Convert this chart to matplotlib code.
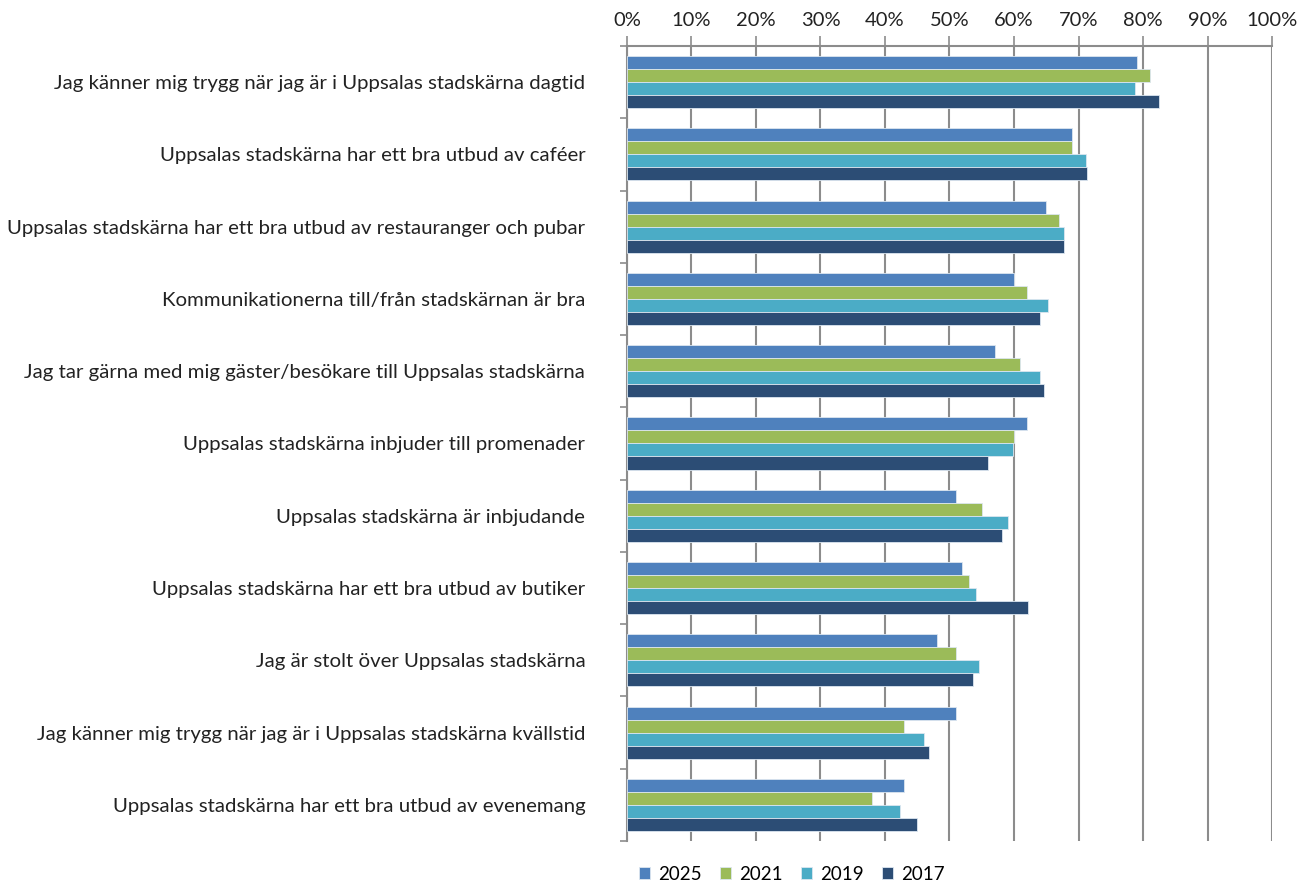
import numpy as np
import matplotlib.pyplot as plt
from matplotlib.ticker import FixedLocator, PercentFormatter

plt.rcParams['font.family'] = ['Lato', 'DejaVu Sans']

categories = [
    "Jag känner mig trygg när jag är i Uppsalas stadskärna dagtid",
    "Uppsalas stadskärna har ett bra utbud av caféer",
    "Uppsalas stadskärna har ett bra utbud av restauranger och pubar",
    "Kommunikationerna till/från stadskärnan är bra",
    "Jag tar gärna med mig gäster/besökare till Uppsalas stadskärna",
    "Uppsalas stadskärna inbjuder till promenader",
    "Uppsalas stadskärna är inbjudande",
    "Uppsalas stadskärna har ett bra utbud av butiker",
    "Jag är stolt över Uppsalas stadskärna",
    "Jag känner mig trygg när jag är i Uppsalas stadskärna kvällstid",
    "Uppsalas stadskärna har ett bra utbud av evenemang",
]
years = ["2025", "2021", "2019", "2017"]
v2025 = [79.0, 69.0, 65.0, 60.0, 57.0, 62.0, 51.0, 52.0, 48.0, 51.0, 43.0]
v2021 = [81.1, 69.0, 67.0, 62.0, 61.0, 60.0, 55.0, 53.0, 51.0, 43.0, 38.0]
v2019 = [78.7, 71.1, 67.8, 65.3, 64.0, 59.8, 59.0, 54.1, 54.5, 46.0, 42.3]
v2017 = [82.5, 71.3, 67.8, 64.0, 64.6, 56.0, 58.1, 62.2, 53.7, 46.8, 45.0]
colors = ["#4F81BD", "#9BBB59", "#4BACC6", "#2C4D75"]

series = [v2025, v2021, v2019, v2017]

fig = plt.figure(figsize=(13.13, 8.83), dpi=100)
ax = fig.add_axes([0.4775, 0.0476, 0.4913, 0.9003])

n = len(categories)
y = np.arange(n)
h = 0.18
for i, (vals, c, yr) in enumerate(zip(series, colors, years)):
    ax.barh(y - 0.27 + i * h, vals, height=h, color=c, edgecolor="#dce6f0",
            linewidth=0.6, label=yr, zorder=3)

ax.set_ylim(n - 0.5, -0.5)
ax.set_xlim(0, 100)
ax.xaxis.tick_top()
ax.set_xticks(np.arange(0, 101, 10))
ax.xaxis.set_major_formatter(PercentFormatter(decimals=0))
ax.tick_params(axis='x', which='major', length=7, width=1.2, color='#8c8c8c',
               labelsize=14.5, pad=5, labelcolor='#222222')
ax.grid(axis='x', color='#8c8c8c', linewidth=1.5, zorder=0)

ax.set_yticks(y)
ax.set_yticklabels(categories, fontsize=14.7, color='#222222')
ax.tick_params(axis='y', which='major', length=0, pad=30)
ax.yaxis.set_minor_locator(FixedLocator(np.arange(-0.5, n, 1)))
ax.tick_params(axis='y', which='minor', length=5, width=1.2, color='#8c8c8c')

for s in ['right', 'bottom']:
    ax.spines[s].set_visible(False)
for s in ['top', 'left']:
    ax.spines[s].set_color('#8c8c8c')
    ax.spines[s].set_linewidth(1.5)

fig.legend(loc='center', bbox_to_anchor=(0.603, 0.01), ncol=4, frameon=False,
           fontsize=13.5, handlelength=0.6, handleheight=0.6, columnspacing=1.0,
           handletextpad=0.4)

fig.savefig("out.png", dpi=100)
